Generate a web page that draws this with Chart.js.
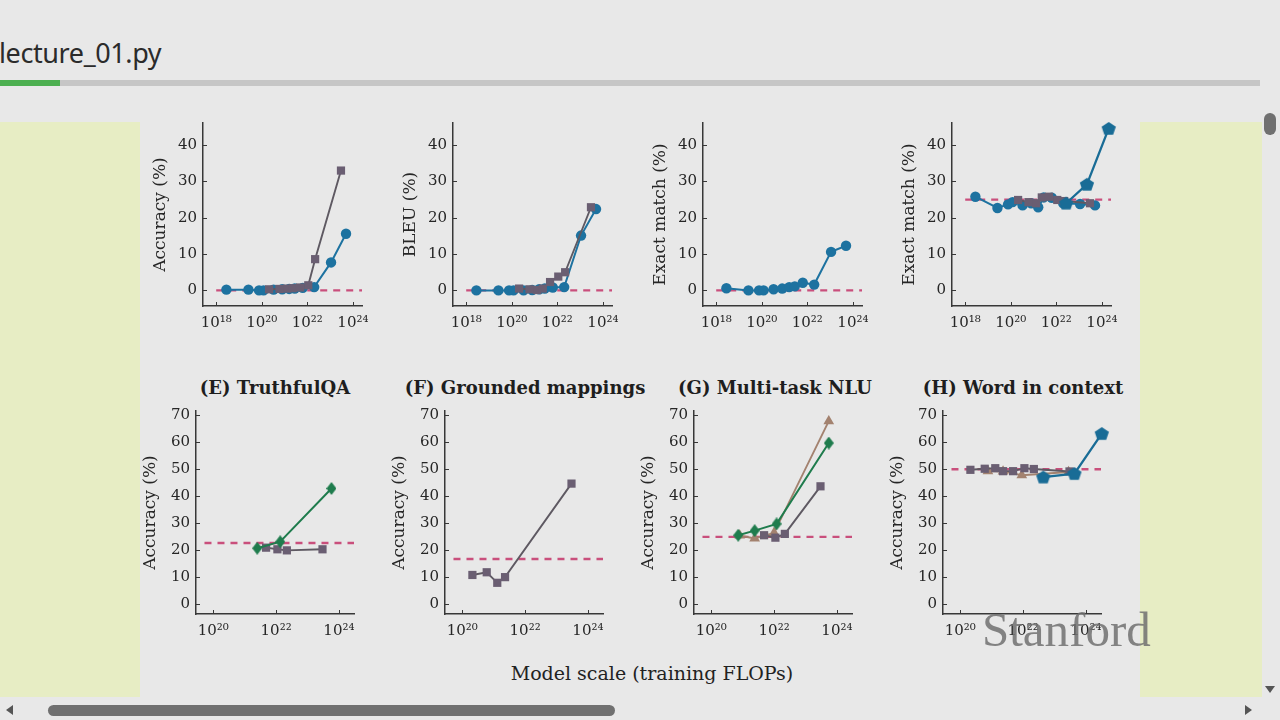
<!DOCTYPE html>
<html>
<head>
<meta charset="utf-8">
<script src="https://cdn.jsdelivr.net/npm/chart.js@4.4.1/dist/chart.umd.min.js"></script>
<style>
  html, body { margin: 0; padding: 0; width: 1280px; height: 720px; overflow: hidden; background: #e8e8e8; }
  .abs { position: absolute; }
  #file { left: -1px; top: 35px; font: 27px "Noto Sans", sans-serif; color: #2b2b2b; line-height: 36px; letter-spacing: -0.4px; }
  #bar { left: 0; top: 80px; width: 1260px; height: 6px; background: #c6c6c6; }
  #bar div { width: 60px; height: 6px; background: #4caf50; }
  .side { top: 122px; height: 575px; background: #e7edc4; }
  canvas { position: absolute; }
  .ptitle { font: bold 18px "DejaVu Serif", serif; color: #1e1e1e; text-align: center; width: 260px; line-height: 22px; }
  #xlab { left: 452px; width: 400px; top: 662px; text-align: center; font: 19px "DejaVu Serif", serif; color: #222; line-height: 22px; }
  #mark { left: 982px; top: 606px; font: 49px "Liberation Serif", serif; color: rgba(112,112,112,0.85); line-height: 48px; }
  .thumb { background: #707070; border-radius: 6px; }
  .tri { width: 0; height: 0; }
</style>
</head>
<body>
<div id="file" class="abs">lecture_01.py</div>
<div id="bar" class="abs"><div></div></div>
<div class="abs side" style="left:0;width:140px"></div>
<div class="abs side" style="left:1140px;width:122px"></div>

<div class="abs ptitle" style="left:145px;top:377px">(E) TruthfulQA</div>
<div class="abs ptitle" style="left:395px;top:377px">(F) Grounded mappings</div>
<div class="abs ptitle" style="left:645px;top:377px">(G) Multi-task NLU</div>
<div class="abs ptitle" style="left:893px;top:377px">(H) Word in context</div>
<div id="xlab" class="abs">Model scale (training FLOPs)</div>

<canvas id="cA" width="239" height="238" style="left:143px;top:108px"></canvas>
<canvas id="cB" width="239" height="238" style="left:393px;top:108px"></canvas>
<canvas id="cC" width="239" height="238" style="left:643px;top:108px"></canvas>
<canvas id="cD" width="239" height="238" style="left:892px;top:108px"></canvas>
<canvas id="cE" width="238" height="258" style="left:136px;top:396px"></canvas>
<canvas id="cF" width="238" height="258" style="left:385px;top:396px"></canvas>
<canvas id="cG" width="238" height="258" style="left:634px;top:396px"></canvas>
<canvas id="cH" width="238" height="258" style="left:883px;top:396px"></canvas>

<div id="mark" class="abs">Stanford</div>

<!-- scrollbars -->
<div class="abs thumb" style="left:1264px;top:113px;width:12px;height:22px"></div>
<div class="abs tri" style="left:1265px;top:686px;border-left:5px solid transparent;border-right:5px solid transparent;border-top:7px solid #555"></div>
<div class="abs thumb" style="left:48px;top:705px;width:567px;height:11px"></div>
<div class="abs tri" style="left:6px;top:705px;border-top:5px solid transparent;border-bottom:5px solid transparent;border-right:7px solid #555"></div>
<div class="abs tri" style="left:1245px;top:705px;border-top:5px solid transparent;border-bottom:5px solid transparent;border-left:7px solid #555"></div>

<script>
// Emergent abilities grid: top row (A-D) and bottom row (E-H).
// x values are training FLOPs, y values in percent.

// shared model sizes (training FLOPs)
const lamdaX  = [2.8e18, 2.6e19, 7.6e19, 1.2e20, 3.3e20, 7.9e20, 1.6e21, 2.8e21, 6.3e21, 2.0e22, 1.1e23, 5.0e23];
const gpt3X   = [2.1e20, 6.0e20, 1.3e21, 2.3e21, 4.8e21, 1.1e22, 2.2e22, 3.0e23];
const gpt3Big = [4.8e21, 1.1e22, 2.2e22, 3.0e23];

// (A) Accuracy
const aLamda = [0.2, 0.2, 0, 0, 0.2, 0.3, 0.4, 0.5, 0.7, 0.9, 7.7, 15.6];
const aGpt3  = [0.3, 0.4, 0.5, 0.6, 0.8, 1.4, 8.6, 33];
// (B) BLEU
const bLamda = [0, 0, 0, 0, 0, 0.1, 0.3, 0.5, 0.8, 0.9, 15.1, 22.4];
const bGpt3  = [0.5, 0.3, 0.1, 0.5, 2.3, 3.8, 5.0, 22.9];
// (C) Exact match
const cLamda = [0.6, 0, 0, 0, 0.3, 0.5, 0.9, 1.1, 2.1, 1.6, 10.6, 12.3];
// (D) Exact match
const dLamda = [25.8, 22.7, 23.7, 24.3, 23.4, 24.0, 22.9, 25.6, 25.5, 24.0, 23.8, 23.4];
const dGpt3  = [24.9, 24.3, 24.0, 25.6, 25.8, 24.9, 24.6, 24.0];
const dPalmX = [2.7e22, 2.2e23, 2.0e24];
const dPalm  = [24.0, 29.2, 44.6];

// (E) TruthfulQA
const eGpt3   = [21.0, 20.4, 20.0, 20.4];
const eChinX  = [2.5e21, 1.35e22, 5.8e23];
const eChin   = [20.8, 23.2, 42.9];
// (F) Grounded mappings
const fGpt3X  = [2.1e20, 6.0e20, 1.3e21, 2.3e21, 3.0e23];
const fGpt3   = [10.9, 11.9, 8.0, 10.1, 44.7];
// (G) Multi-task NLU
const gGpt3   = [25.6, 24.7, 26.1, 43.7];
const gChinX  = [7.2e20, 2.4e21, 1.2e22, 5.5e23];
const gChin   = [25.6, 27.3, 29.8, 59.7];
const gGophX  = [8.0e20, 2.4e21, 1.0e22, 5.5e23];
const gGoph   = [25.5, 24.4, 26.5, 67.8];
// (H) Word in context
const hGpt3   = [49.8, 50.2, 50.4, 49.3, 49.3, 50.4, 50.1, 49.2];
const hGophX  = [7.6e20, 2.3e21, 9.1e21, 2.8e23];
const hGoph   = [49.3, 49.2, 47.8, 49.0];
const hPalmX  = [4.4e22, 4.3e23, 3.2e24];
const hPalm   = [47.1, 48.4, 63.2];

// random-chance baselines
const chance = { A: 0, B: 0, C: 0, D: 25, E: 22.7, F: 16.8, G: 25, H: 50 };

// axes
const topXTicks = [1e18, 1e20, 1e22, 1e24];
const topXLabels = ['10¹⁸', '10²⁰', '10²²', '10²⁴'];
const botXTicks = [1e20, 1e22, 1e24];
const botXLabels = ['10²⁰', '10²²', '10²⁴'];
const topYTicks = [0, 10, 20, 30, 40];
const botYTicks = [0, 10, 20, 30, 40, 50, 60, 70];
const topRange = { xMin: 10 ** 17.42, xMax: 10 ** 24.4, yMin: -4.3, yMax: 46.1, chanceFrom: 1e18 };
const botRange = { xMin: 10 ** 19.45, xMax: 10 ** 24.48, yMin: -3.54, yMax: 71.56, chanceFrom: 10 ** 19.72 };

const SERIF = '"DejaVu Serif", serif';
const INK = '#262626';
const AXIS = '#383838';
const BLUE = '#1d72a0';
const PALM = '#196c96';
const SQ = '#6a5e72';
const SQ_LINE = '#5e5962';
const GREEN = '#1f7c4d';
const TAN = '#a3826f';
const CHANCE = '#c94f7c';

function shape(kind, color, w, h) {
  const c = document.createElement('canvas');
  c.width = w; c.height = h;
  const g = c.getContext('2d');
  g.fillStyle = color;
  g.beginPath();
  if (kind === 'diamond') {
    g.moveTo(w / 2, 0); g.lineTo(w, h / 2); g.lineTo(w / 2, h); g.lineTo(0, h / 2);
  } else {
    for (let i = 0; i < 5; i++) {
      const a = -Math.PI / 2 + i * 2 * Math.PI / 5;
      g.lineTo(w / 2 + (w / 2 - 0.5) * Math.cos(a), h / 2 + 0.5 + (h / 2 - 0.5) * Math.sin(a));
    }
  }
  g.closePath();
  g.fill();
  return c;
}

const STYLE = {
  lamda: { borderColor: BLUE, backgroundColor: BLUE, pointStyle: 'circle', pointRadius: 5.2, pointBorderWidth: 0, borderWidth: 2 },
  gpt3:  { borderColor: SQ_LINE, backgroundColor: SQ, pointStyle: 'rect', pointRadius: 5.8, pointBorderWidth: 0, borderWidth: 1.9 },
  goph:  { borderColor: TAN, backgroundColor: TAN, pointStyle: 'triangle', pointRadius: 6.2, pointBorderWidth: 0, borderWidth: 1.9 },
  chin:  { borderColor: GREEN, backgroundColor: GREEN, pointStyle: shape('diamond', GREEN, 10, 13), borderWidth: 2 },
  palm:  { borderColor: PALM, backgroundColor: PALM, pointStyle: shape('pentagon', PALM, 16, 15), borderWidth: 2.3 },
};

function series(xs, ys, style) {
  return { data: xs.map((x, i) => ({ x, y: ys[i] })), clip: false, tension: 0, ...style };
}
function chanceLine(v, r) {
  return { data: [{ x: r.chanceFrom, y: v }, { x: r.xMax, y: v }], borderColor: CHANCE, borderDash: [7, 6], borderWidth: 2.4, pointRadius: 0 };
}

// small inward tick marks, like the original plot
const innerTicks = {
  id: 'innerTicks',
  beforeDatasetsDraw(chart) {
    const { ctx, chartArea: a, scales: { x, y } } = chart;
    ctx.save();
    ctx.strokeStyle = AXIS;
    ctx.lineWidth = 1;
    ctx.beginPath();
    x.ticks.forEach(t => { const p = Math.round(x.getPixelForValue(t.value)) + 0.5; ctx.moveTo(p, a.bottom); ctx.lineTo(p, a.bottom - 4); });
    y.ticks.forEach(t => { const p = Math.round(y.getPixelForValue(t.value)) + 0.5; ctx.moveTo(a.left, p); ctx.lineTo(a.left + 4, p); });
    ctx.stroke();
    ctx.restore();
  },
};

function panel(id, datasets, r, xt, xl, yt, ytitle, titlePad) {
  new Chart(document.getElementById(id), {
    type: 'line',
    data: { datasets },
    plugins: [innerTicks],
    options: {
      responsive: false, animation: false, events: [],
      layout: { padding: { left: 0, right: 20, top: 12, bottom: 0 } },
      plugins: { legend: { display: false }, tooltip: { enabled: false } },
      scales: {
        x: {
          type: 'logarithmic', min: r.xMin, max: r.xMax,
          afterBuildTicks: s => { s.ticks = xt.map(v => ({ value: v })); },
          afterFit: s => { s.height = 40; },
          ticks: { autoSkip: false, maxRotation: 0, padding: 8, color: INK, font: { family: SERIF, size: 15 }, callback: (v, i) => xl[i] },
          grid: { display: false, drawTicks: false },
          border: { color: AXIS, width: 1.5 },
        },
        y: {
          min: r.yMin, max: r.yMax,
          afterBuildTicks: s => { s.ticks = yt.map(v => ({ value: v })); },
          afterFit: s => { s.width = 60; },
          ticks: { padding: 6, color: INK, font: { family: SERIF, size: 15 } },
          grid: { display: false, drawTicks: false },
          border: { color: AXIS, width: 1.5 },
          title: { display: true, text: ytitle, color: INK, font: { family: SERIF, size: 17 }, padding: { top: titlePad, bottom: 0 } },
        },
      },
    },
  });
}

panel('cA', [series(gpt3X, aGpt3, STYLE.gpt3), series(lamdaX, aLamda, STYLE.lamda), chanceLine(chance.A, topRange)],
  topRange, topXTicks, topXLabels, topYTicks, 'Accuracy (%)', 7);
panel('cB', [series(gpt3X, bGpt3, STYLE.gpt3), series(lamdaX, bLamda, STYLE.lamda), chanceLine(chance.B, topRange)],
  topRange, topXTicks, topXLabels, topYTicks, 'BLEU (%)', 7);
panel('cC', [series(lamdaX, cLamda, STYLE.lamda), chanceLine(chance.C, topRange)],
  topRange, topXTicks, topXLabels, topYTicks, 'Exact match (%)', 7);
panel('cD', [series(dPalmX, dPalm, STYLE.palm), series(gpt3X, dGpt3, STYLE.gpt3), series(lamdaX, dLamda, STYLE.lamda), chanceLine(chance.D, topRange)],
  topRange, topXTicks, topXLabels, topYTicks, 'Exact match (%)', 7);

panel('cE', [series(eChinX, eChin, STYLE.chin), series(gpt3Big, eGpt3, STYLE.gpt3), chanceLine(chance.E, botRange)],
  botRange, botXTicks, botXLabels, botYTicks, 'Accuracy (%)', 4);
panel('cF', [series(fGpt3X, fGpt3, STYLE.gpt3), chanceLine(chance.F, botRange)],
  botRange, botXTicks, botXLabels, botYTicks, 'Accuracy (%)', 4);
panel('cG', [series(gChinX, gChin, STYLE.chin), series(gpt3Big, gGpt3, STYLE.gpt3), series(gGophX, gGoph, STYLE.goph), chanceLine(chance.G, botRange)],
  botRange, botXTicks, botXLabels, botYTicks, 'Accuracy (%)', 4);
panel('cH', [series(hPalmX, hPalm, STYLE.palm), series(gpt3X, hGpt3, STYLE.gpt3), series(hGophX, hGoph, STYLE.goph), chanceLine(chance.H, botRange)],
  botRange, botXTicks, botXLabels, botYTicks, 'Accuracy (%)', 4);
</script>
</body>
</html>
